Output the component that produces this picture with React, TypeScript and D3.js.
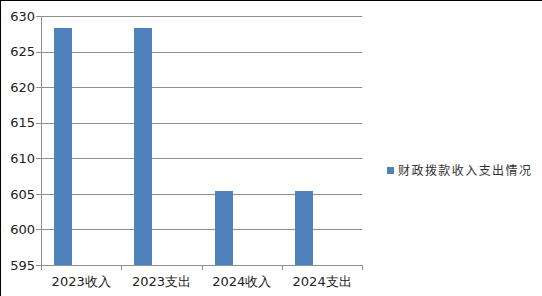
import React from "react";
import * as d3 from "d3";

const categories = ["2023收入", "2023支出", "2024收入", "2024支出"];
const values = [628.3, 628.3, 605.45, 605.45];
const yTicks = [595, 600, 605, 610, 615, 620, 625, 630];
const seriesName = "财政拨款收入支出情况";

export default function App() {
  const W = 542, H = 296;
  const left = 41, right = 362.3, top = 16, bottom = 265;
  const x = d3.scaleBand<string>().domain(categories).range([left, right]).paddingInner(0).paddingOuter(0);
  const y = d3.scaleLinear().domain([595, 630]).range([bottom, top]);
  const bw = x.bandwidth();
  const barOff = bw * 0.1625;
  const barW = bw * 0.224;
  const color = "#4F81BD";
  const grid = "#8E8E8E";
  const font = "DejaVu Sans, sans-serif";
  return (
    <svg width={W} height={H} style={{ position: "absolute", left: 0, top: 0, display: "block" }}>
      <rect x={0} y={0} width={W} height={H} fill="#fff" />
      <line x1={0.5} y1={0} x2={0.5} y2={H} stroke="#000" />
      <line x1={0} y1={0.5} x2={W} y2={0.5} stroke="#000" />
      {yTicks.map((t) => (
        <g key={t}>
          <line x1={left - 5} x2={right} y1={Math.round(y(t)) + 0.5} y2={Math.round(y(t)) + 0.5} stroke={grid} />
          <text x={35} y={y(t)} dy="0.36em" textAnchor="end" fontFamily={font} fontSize={13} fill="#222">
            {t}
          </text>
        </g>
      ))}
      <line x1={left + 0.5} x2={left + 0.5} y1={top} y2={bottom + 5} stroke={grid} />
      {categories.map((c, i) => (
        <line key={"t" + i} x1={Math.round(x(c)! + bw) + 0.5} x2={Math.round(x(c)! + bw) + 0.5} y1={bottom} y2={bottom + 5} stroke={grid} />
      ))}
      {categories.map((c, i) => (
        <rect key={c} x={Math.round(x(c)! + barOff)} y={Math.round(y(values[i]))} width={Math.round(barW)} height={Math.round(bottom - y(values[i]))} fill={color} />
      ))}
      {categories.map((c) => (
        <text key={"l" + c} x={x(c)! + bw / 2} y={286} textAnchor="middle" fontFamily={font} fontSize={13} fill="#222">
          {c}
        </text>
      ))}
      <rect x={387} y={167} width={7} height={7} fill={color} />
      <text x={398} y={175} fontFamily="'Noto Sans CJK SC', sans-serif" fontSize={12} textLength={133} lengthAdjust="spacing" fill="#333">
        {seriesName}
      </text>
    </svg>
  );
}
